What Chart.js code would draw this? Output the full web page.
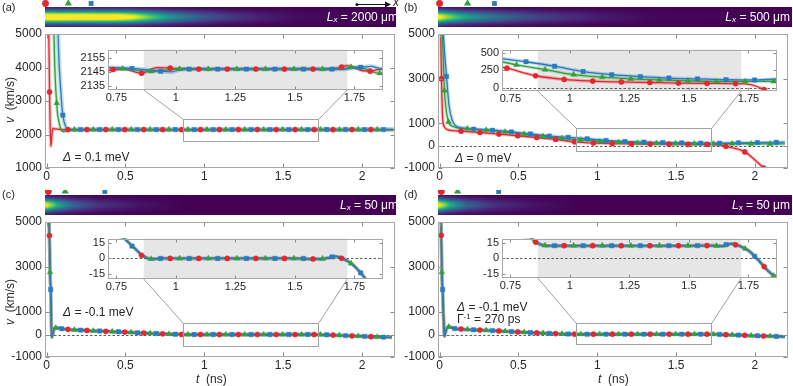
<!DOCTYPE html>
<html>
<head>
<meta charset="utf-8">
<script src="https://cdn.jsdelivr.net/npm/chart.js@4.4.1/dist/chart.umd.min.js"></script>
<style>
body{margin:0;background:#fff;}
#fig{position:relative;width:793px;height:386px;overflow:hidden;font-family:"Liberation Sans",Arial,sans-serif;color:#262626;}
canvas{position:absolute;}
.t{position:absolute;white-space:nowrap;font-size:12px;line-height:1;z-index:5;}
.yt{transform:translate(-50%,-50%) rotate(-90deg);}
.w{color:#fff;}
i{font-style:italic;}
sub{font-size:8px;vertical-align:-1px;font-style:italic;}
sup{font-size:8px;vertical-align:4px;}
</style>
</head>
<body>
<div id="fig">
  <canvas id="ma" width="400" height="186" style="left:0;top:0;z-index:1"></canvas>
  <canvas id="mb" width="393" height="186" style="left:400px;top:0;z-index:1"></canvas>
  <canvas id="mc" width="400" height="186" style="left:0;top:190px;z-index:1"></canvas>
  <canvas id="md" width="393" height="186" style="left:400px;top:190px;z-index:1"></canvas>
  <canvas id="ia" width="318" height="66" style="left:70px;top:40px;z-index:2"></canvas>
  <canvas id="ib" width="320" height="66" style="left:462px;top:40px;z-index:2"></canvas>
  <canvas id="ic" width="318" height="66" style="left:70px;top:229px;z-index:2"></canvas>
  <canvas id="id" width="320" height="66" style="left:462px;top:229px;z-index:2"></canvas>

  <div class="t" style="left:2px;top:2px;font-size:11px">(a)</div>
  <div class="t" style="left:404px;top:2px;font-size:11px">(b)</div>
  <div class="t" style="left:2px;top:189px;font-size:11px">(c)</div>
  <div class="t" style="left:404px;top:189px;font-size:11px">(d)</div>

  <div class="t" style="left:393px;top:-4px"><i>x</i></div>

  <div class="t w" style="right:395px;top:11px"><i>L</i><sub>x</sub> = 2000 μm</div>
  <div class="t w" style="right:3px;top:11px"><i>L</i><sub>x</sub> = 500 μm</div>
  <div class="t w" style="right:395px;top:199px"><i>L</i><sub>x</sub> = 50 μm</div>
  <div class="t w" style="right:3px;top:199px"><i>L</i><sub>x</sub> = 50 μm</div>

  <div class="t yt" style="left:10px;top:100px"><i>v</i>&nbsp; (km/s)</div>
  <div class="t yt" style="left:10px;top:302px"><i>v</i>&nbsp; (km/s)</div>
  <div class="t" style="left:196px;top:373px"><i>t</i>&nbsp; (ns)</div>
  <div class="t" style="left:598px;top:373px"><i>t</i>&nbsp; (ns)</div>

  <div class="t" style="left:63px;top:151px"><i>Δ</i> = 0.1 meV</div>
  <div class="t" style="left:455px;top:152px"><i>Δ</i> = 0 meV</div>
  <div class="t" style="left:63px;top:306px"><i>Δ</i> = -0.1 meV</div>
  <div class="t" style="left:457px;top:301px"><i>Δ</i> = -0.1 meV</div>
  <div class="t" style="left:457px;top:313px">Γ<sup>-1</sup> = 270 ps</div>
</div>

<script>
const FONT = '"Liberation Sans", Arial, sans-serif';
const INK = '#262626';
const RED = '#e3282d', GREEN = '#30a03a', BLUE = '#2a7bbd';

// ---------- AXES ----------
const X_MAIN = [-0.01, 2.21];
const X_TICKS = [0, 0.5, 1, 1.5, 2];
const X_INSET = [0.715, 1.87];
const X_TICKS_INSET = [0.75, 1, 1.25, 1.5, 1.75];
const ZOOM_T = [0.865, 1.72];           // shaded part of the insets / zoom box in t

const A_YTICKS = [1000, 2000, 3000, 4000, 5000];
const BCD_YTICKS = [-1000, 0, 1000, 3000, 5000];
const A_IN_YTICKS = [2135, 2145, 2155];
const B_IN_YTICKS = [0, 250, 500];
const CD_IN_YTICKS = [-15, 0, 15];

// shared marker times on the plateau
const MT_R = [0.136,0.256,0.376,0.496,0.616,0.736,0.856,0.976,1.096,1.216,1.336,1.456,1.576,1.696,1.816,1.936,2.056];
const MT_G = [0.176,0.296,0.416,0.536,0.656,0.776,0.896,1.016,1.136,1.256,1.376,1.496,1.616,1.736,1.856,1.976,2.096];
const MT_B = [0.216,0.336,0.456,0.576,0.696,0.816,0.936,1.056,1.176,1.296,1.416,1.536,1.656,1.776,1.896,2.016,2.136];

// ---------- PANEL (a) ----------
const A_R_T = [0.010,0.014,0.019,0.023,0.027,0.031,0.036,0.042,0.05,0.06,0.08,0.12,0.3,0.6,0.72,0.78,0.856,0.92,1.0,1.1,1.3,1.5,1.65,1.696,1.72,1.78,1.816,1.86,2.0,2.2];
const A_R_V = [7000,5000,3270,2200,1650,1800,2100,2190,2160,2170,2150,2148,2147,2147,2146,2147,2144,2148,2147.5,2147,2147,2147,2147,2148.5,2149.5,2146,2145.5,2147,2147,2147];
const A_G_T = [0.042,0.047,0.064,0.08,0.095,0.11,0.13,0.16,0.3,0.6,0.72,0.8,0.896,0.95,1.0,1.3,1.6,1.7,1.736,1.78,1.856,1.9,2.0,2.2];
const A_G_V = [7000,5000,2940,2350,2120,2090,2120,2145,2147,2147,2148,2147,2145.3,2146,2147,2147,2147,2147,2148.5,2148,2144,2145,2147,2147];
const A_B_T = [0.066,0.073,0.09,0.103,0.12,0.14,0.16,0.2,0.6,0.72,0.816,0.936,0.98,1.03,1.3,1.6,1.7,1.776,1.82,1.867,2.0,2.2];
const A_B_V = [7000,5000,3300,2580,2250,2160,2140,2147,2147,2148,2147.5,2145.5,2145,2147,2147,2147,2147,2148.3,2149,2147,2147,2147];
const A_MR_T = [0.019, ...MT_R];
const A_MR_V = [3270,2147,2147,2147,2147,2147,2146.7,2144,2147.7,2147,2147,2147,2147,2147,2148.5,2145.5,2147,2147];
const A_MG_T = [0.064, ...MT_G];
const A_MG_V = [2940,2147,2147,2147,2147,2147,2147.3,2145.3,2147,2147,2147,2147,2147,2147,2148.5,2144,2146.5,2147];
const A_MB_T = [0.103, ...MT_B];
const A_MB_V = [2580,2147,2147,2147,2147,2147,2147.5,2145.5,2147,2147,2147,2147,2147,2147,2148.3,2147.3,2147,2147];

// ---------- PANEL (b) ----------
const B_R_T = [0.004,0.007,0.012,0.02,0.03,0.05,0.09,0.136,0.256,0.376,0.496,0.616,0.736,0.856,0.976,1.096,1.216,1.336,1.456,1.576,1.696,1.76,1.816,1.936,2.056];
const B_R_V = [6000,5000,3000,1200,850,720,670,650,590,520,445,365,281,171,118,94,81,73,65,61,58,42,-30,-280,-1000];
const B_G_T = [0.014,0.018,0.031,0.057,0.085,0.12,0.176,0.296,0.416,0.536,0.656,0.776,0.896,1.016,1.136,1.256,1.376,1.496,1.616,1.736,1.856,1.976,2.096,2.19];
const B_G_V = [6000,5000,2470,1070,860,790,760,700,620,520,420,329,260,187,150,126,110,98,89,89,89,85,80,80];
const B_B_T = [0.018,0.024,0.044,0.06,0.08,0.1,0.14,0.216,0.336,0.456,0.576,0.696,0.816,0.936,1.056,1.176,1.296,1.416,1.536,1.656,1.776,1.896,2.016,2.136,2.19];
const B_B_V = [6000,5000,3100,1800,1150,900,800,740,690,615,525,430,374,309,232,187,159,138,126,114,110,128,140,150,160];
const B_MR_T = [0.012, ...MT_R];
const B_MR_V = [3000,650,590,520,445,365,281,171,118,94,81,73,65,61,58,-30,-280,-1000];
const B_MG_T = [0.031, 0.057, ...MT_G];
const B_MG_V = [2470,1070,760,700,620,520,420,329,260,187,150,126,110,98,89,89,89,85,80];
const B_MB_T = [0.044, ...MT_B];
const B_MB_V = [3100,740,690,615,525,430,374,309,232,187,159,138,126,114,110,128,140,150];

// ---------- PANEL (c) ----------
const C_T = [0.008,0.012,0.016,0.018,0.022,0.026,0.03,0.033,0.037,0.044,0.052,0.064,0.1,0.2,0.3,0.4,0.5,0.6,0.7,0.786,0.828,0.86,0.894,0.95,1.1,1.3,1.5,1.58,1.62,1.672,1.70,1.74,1.78,1.80,1.9,2.0,2.1,2.19];
const C_V = [9000,6500,5000,4400,2770,2000,600,-120,-50,150,290,300,250,200,165,135,105,72,42,19,9.7,2.8,-0.5,0,0,0,0,-0.5,-0.3,2,0,-5.6,-15,-21,-50,-80,-110,-130];
const C_MR_T = [0.018, ...MT_R];
const C_MR_V = [4400,232,180,142,106,67,32,3,0,0,0,0,0,-0.5,0.2,-25,-61,-96];
const C_MG_T = [0.022, 0.058, ...MT_G];
const C_MG_V = [2770,298,210,166,130,94,55,21,-0.5,0,0,0,0,0,-0.3,-5,-38,-73,-109];
const C_MB_T = [0.026, 0.096, ...MT_B];
const C_MB_V = [2000,255,195,155,120,80,43,12,0,0,0,0,0,0,1.5,-14,-49,-85,-118];

// ---------- PANEL (d) ----------
const D_T = [0.005,0.008,0.0107,0.0145,0.019,0.026,0.031,0.036,0.044,0.058,0.1,0.2,0.3,0.4,0.5,0.6,0.7,0.8,0.843,0.857,0.899,0.95,1.1,1.3,1.5,1.6,1.64,1.68,1.71,1.754,1.796,1.83,1.867,1.95,2.05,2.19];
const D_V = [9000,6000,4410,2770,2000,600,-75,50,250,340,260,215,185,150,112,78,48,25,19,16,12.5,12.5,12.5,12.5,12.5,12.6,12,14.4,12.5,7,-2.8,-11.7,-19.4,-40,-65,-100];
const D_MR_T = [0.0107, ...MT_R];
const D_MR_V = [4410,245,198,158,113,73,40,16,12.5,12.5,12.5,12.5,12.5,12.6,13.3,-8,-36,-66];
const D_MG_T = [0.0145, 0.058, ...MT_G];
const D_MG_V = [2770,340,225,186,145,100,64,30,12.7,12.5,12.5,12.5,12.5,12.5,12.3,9.5,-17,-46,-75];
const D_MB_T = [0.019, 0.096, ...MT_B];
const D_MB_V = [2000,265,210,172,128,86,50,22,12.5,12.5,12.5,12.5,12.5,12.5,13.5,2,-27,-56,-86];

// ---------- STRIPS (intensity along x, as fraction of width) ----------
const VIRIDIS = ['#440154','#482475','#414487','#355f8d','#2a788e','#21918c','#22a884','#44bf70','#7ad151','#bddf26','#fde725'];
const A_STRIP_X = [0, 0.2, 0.25, 0.31, 0.36, 0.44, 0.52, 0.6, 0.72, 1];
const A_STRIP_I = [1.15, 1.12, 1.0, 0.7, 0.5, 0.3, 0.18, 0.1, 0.03, 0];
const B_STRIP_X = [0, 0.025, 0.06, 0.1, 0.2, 0.3, 0.45, 0.6, 1];
const B_STRIP_I = [1.05, 0.85, 0.65, 0.5, 0.3, 0.18, 0.08, 0.02, 0];
const C_STRIP_X = [0, 0.015, 0.03, 0.05, 0.08, 0.15, 0.27, 0.4, 1];
const C_STRIP_I = [1.0, 0.85, 0.65, 0.5, 0.32, 0.15, 0.05, 0, 0];
const D_STRIP_X = [0, 0.015, 0.03, 0.05, 0.08, 0.15, 0.27, 0.4, 1];
const D_STRIP_I = [1.0, 0.85, 0.65, 0.5, 0.32, 0.15, 0.05, 0, 0];
// probe icons above strips (fraction of strip width) : red, green, blue
const A_ICONS = [0.0, 0.065, 0.13];
const B_ICONS = [0.003, 0.082, 0.158];
const C_ICONS = [0.008, 0.056, 0.169];
const D_ICONS = [0.008, 0.054, 0.17];

// ---------- HELPERS ----------
const xy = (T, V) => T.map((t, i) => ({x: t, y: V[i]}));
function fade(hex, a) {
  const n = parseInt(hex.slice(1), 16);
  return `rgba(${n >> 16},${(n >> 8) & 255},${n & 255},${a})`;
}
function rgb(hex) { const n = parseInt(hex.slice(1), 16); return [n >> 16, (n >> 8) & 255, n & 255]; }
const VIR_RGB = VIRIDIS.map(rgb);
function viridis(v) {
  v = Math.max(0, Math.min(1, v));
  const f = v * 10, i = Math.min(9, Math.floor(f)), r = f - i;
  const a = VIR_RGB[i], b = VIR_RGB[i + 1];
  return [a[0] + (b[0] - a[0]) * r, a[1] + (b[1] - a[1]) * r, a[2] + (b[2] - a[2]) * r];
}
function profileAt(X, I, f) {
  for (let k = 1; k < X.length; k++) {
    if (f <= X[k]) { const r = (f - X[k-1]) / (X[k] - X[k-1]); return I[k-1] + (I[k] - I[k-1]) * r; }
  }
  return I[I.length - 1];
}
function drawStrip(ctx, x0, y0, w, h, X, I) {
  const img = ctx.createImageData(w, h), sig = 4.3;
  for (let i = 0; i < w; i++) {
    const amp = profileAt(X, I, i / (w - 1));
    for (let j = 0; j < h; j++) {
      const d = j + 0.5 - h / 2;
      const c = viridis(amp * Math.exp(-d * d / (2 * sig * sig)));
      const p = (j * w + i) * 4;
      img.data[p] = c[0]; img.data[p+1] = c[1]; img.data[p+2] = c[2]; img.data[p+3] = 255;
    }
  }
  ctx.putImageData(img, x0, y0);
}
function frameTicks(ctx, a, x, y, xt, yt, len) {
  ctx.strokeStyle = '#8a8a8a'; ctx.lineWidth = 1; ctx.setLineDash([]);
  const L = Math.round(a.left) + 0.5, R = Math.round(a.right) - 0.5, T = Math.round(a.top) + 0.5, B = Math.round(a.bottom) - 0.5;
  ctx.beginPath();
  xt.forEach(v => { const p = Math.round(x.getPixelForValue(v)) + 0.5; ctx.moveTo(p, B); ctx.lineTo(p, B - len); ctx.moveTo(p, T); ctx.lineTo(p, T + len); });
  yt.forEach(v => { const p = Math.round(y.getPixelForValue(v)) + 0.5; ctx.moveTo(L, p); ctx.lineTo(L + len, p); ctx.moveTo(R, p); ctx.lineTo(R - len, p); });
  ctx.stroke();
  ctx.strokeStyle = '#a8a8a8';
  ctx.strokeRect(L, T, R - L, B - T);
}
function dashZero(chart) {
  const {ctx, chartArea: a, scales: {y}} = chart;
  const p = Math.round(y.getPixelForValue(0)) + 0.5;
  ctx.save(); ctx.strokeStyle = '#333'; ctx.lineWidth = 0.8; ctx.setLineDash([2.5, 2]);
  ctx.beginPath(); ctx.moveTo(a.left, p); ctx.lineTo(a.right, p); ctx.stroke(); ctx.restore();
}

function datasets(lines, marks) {
  const ds = [];
  lines.forEach(([T, V, c, hw]) => {
    ds.push({data: xy(T, V), showLine: true, borderColor: fade(c, 0.28), borderWidth: hw || 3.5, pointRadius: 0, cubicInterpolationMode: 'monotone'});
    ds.push({data: xy(T, V), showLine: true, borderColor: c, borderWidth: 1.3, pointRadius: 0, cubicInterpolationMode: 'monotone'});
  });
  marks.forEach(([T, V, c, s, r]) => {
    ds.push({data: xy(T, V), showLine: false, pointStyle: s, pointRadius: r, pointBackgroundColor: c, pointBorderColor: fade(c, 0.55), pointBorderWidth: 0.8});
  });
  return ds.reverse();   // first dataset is drawn on top
}

function makeChart(id, P, plugin) {
  return new Chart(document.getElementById(id), {
    type: 'scatter',
    data: {datasets: datasets(P.lines, P.marks)},
    options: {
      responsive: false, animation: false, events: [], devicePixelRatio: 1,
      layout: {padding: {top: P.pad[0], right: P.pad[1], bottom: 0, left: 0}},
      plugins: {legend: {display: false}, tooltip: {enabled: false}},
      scales: {
        x: {type: 'linear', min: P.xr[0], max: P.xr[1],
            grid: {display: false, drawTicks: false}, border: {display: false},
            ticks: {font: {family: FONT, size: P.fs}, color: INK, padding: P.xpad, maxRotation: 0, autoSkip: false, callback: v => String(v)},
            afterBuildTicks: s => { s.ticks = P.xt.map(v => ({value: v})); },
            afterFit: s => { s.height = P.xh; }},
        y: {type: 'linear', min: P.yr[0], max: P.yr[1],
            grid: {display: false, drawTicks: false}, border: {display: false},
            ticks: {font: {family: FONT, size: P.fs}, color: INK, padding: 3, autoSkip: false, callback: v => String(v)},
            afterBuildTicks: s => { s.ticks = P.yt.map(v => ({value: v})); },
            afterFit: s => { s.width = P.yw; }}
      }
    },
    plugins: [plugin]
  });
}

function insetPlugin(P) {
  return {
    id: 'insetDeco',
    beforeDatasetsDraw(c) {
      const {ctx, chartArea: a, scales: {x}} = c;
      ctx.save();
      ctx.fillStyle = '#fff'; ctx.fillRect(a.left, a.top, a.width, a.height);
      const g0 = x.getPixelForValue(ZOOM_T[0]), g1 = x.getPixelForValue(ZOOM_T[1]);
      ctx.fillStyle = '#e6e6e6'; ctx.fillRect(g0, a.top, g1 - g0, a.height);
      ctx.restore();
      if (P.zero) dashZero(c);
    },
    afterDatasetsDraw(c) {
      const {ctx, chartArea: a, scales: {x, y}} = c;
      ctx.save(); frameTicks(ctx, a, x, y, P.xt, P.yt, 3); ctx.restore();
    }
  };
}

function mainPlugin(P) {
  return {
    id: 'mainDeco',
    beforeDatasetsDraw(c) { if (P.zero) dashZero(c); },
    afterDatasetsDraw(c) {
      const {ctx, chartArea: a, scales: {x, y}} = c;
      ctx.save();
      // zoom box and connectors to the inset
      const bx0 = Math.round(x.getPixelForValue(ZOOM_T[0])) + 0.5, bx1 = Math.round(x.getPixelForValue(ZOOM_T[1])) + 0.5;
      const byT = Math.round(y.getPixelForValue(P.box[1])) + 0.5, byB = Math.round(y.getPixelForValue(P.box[0])) + 0.5;
      ctx.strokeStyle = '#a0a0a0'; ctx.lineWidth = 1;
      ctx.strokeRect(bx0, byT, bx1 - bx0, byB - byT);
      const ins = P.inset, dx = P.insetPos[0] - P.pos[0], dy = P.insetPos[1] - P.pos[1];
      const ix0 = ins.scales.x.getPixelForValue(ZOOM_T[0]) + dx, ix1 = ins.scales.x.getPixelForValue(ZOOM_T[1]) + dx;
      const iy = ins.chartArea.bottom + dy;
      ctx.beginPath(); ctx.moveTo(bx0, byT); ctx.lineTo(ix0, iy); ctx.moveTo(bx1, byT); ctx.lineTo(ix1, iy); ctx.stroke();
      frameTicks(ctx, a, x, y, P.xt, P.yt, 4);
      // strip above the axes
      const sx = Math.round(a.left), sw = Math.round(a.right) + P.stripExtra - sx, sy = Math.round(a.top) - 27;
      drawStrip(ctx, sx, sy, sw, 20, P.stripX, P.stripI);
      const iconStyle = [['circle', RED, 3.4], ['triangle', GREEN, 4.2], ['rect', BLUE, 3.4]];
      P.icons.forEach((f, k) => {
        const [st, col, r] = iconStyle[k];
        ctx.fillStyle = col; ctx.strokeStyle = col;
        Chart.helpers.drawPoint(ctx, {pointStyle: st, radius: r, rotation: 0, borderWidth: 0}, sx + f * sw + 0.5, sy - 3.5);
      });
      if (P.arrow) {
        ctx.strokeStyle = '#111'; ctx.fillStyle = '#111'; ctx.lineWidth = 1;
        const y0 = 4.5, xa = P.arrow[0], xb = P.arrow[1];
        ctx.beginPath(); ctx.arc(xa, y0, 1.5, 0, Math.PI * 2); ctx.fill();
        ctx.beginPath(); ctx.moveTo(xa, y0); ctx.lineTo(xb - 4, y0); ctx.stroke();
        ctx.beginPath(); ctx.moveTo(xb, y0); ctx.lineTo(xb - 6, y0 - 3); ctx.lineTo(xb - 6, y0 + 3); ctx.closePath(); ctx.fill();
      }
      ctx.restore();
    }
  };
}

// ---------- BUILD ----------
const MK = (mr, mg, mb) => [
  [mr[0], mr[1], RED, 'circle', 2.6],
  [mg[0], mg[1], GREEN, 'triangle', 3.3],
  [mb[0], mb[1], BLUE, 'rect', 3.1]
];
const PANELS = [
  {main: 'ma', inset: 'ia', pos: [0, 0], insetPos: [70, 40], mainYw: 45, mainPr: 1, insYw: 38, insPr: 5, insXh: 16,
   yr: [1000, 5000], yt: A_YTICKS, iyr: [2132, 2161], iyt: A_IN_YTICKS, box: [1806, 2463], zero: false, insZero: false,
   lines: [[A_R_T, A_R_V, RED], [A_G_T, A_G_V, GREEN], [A_B_T, A_B_V, BLUE, 4.5]],
   marks: MK([A_MR_T, A_MR_V], [A_MG_T, A_MG_V], [A_MB_T, A_MB_V]),
   stripX: A_STRIP_X, stripI: A_STRIP_I, icons: A_ICONS, stripExtra: 1, arrow: [357, 391]},
  {main: 'mb', inset: 'ib', pos: [400, 0], insetPos: [462, 40], mainYw: 38, mainPr: 5, insYw: 40, insPr: 5, insXh: 15,
   yr: [-1000, 5000], yt: BCD_YTICKS, iyr: [-50, 550], iyt: B_IN_YTICKS, box: [-224, 807], zero: true, insZero: true,
   lines: [[B_R_T, B_R_V, RED], [B_G_T, B_G_V, GREEN], [B_B_T, B_B_V, BLUE]],
   marks: MK([B_MR_T, B_MR_V], [B_MG_T, B_MG_V], [B_MB_T, B_MB_V]),
   stripX: B_STRIP_X, stripI: B_STRIP_I, icons: B_ICONS, stripExtra: 4, arrow: null},
  {main: 'mc', inset: 'ic', pos: [0, 190], insetPos: [70, 229], mainYw: 45, mainPr: 1, insYw: 38, insPr: 5, insXh: 16,
   yr: [-1000, 5000], yt: BCD_YTICKS, iyr: [-20, 19.3], iyt: CD_IN_YTICKS, box: [-489, 533], zero: true, insZero: true,
   lines: [[C_T, C_V, RED], [C_T, C_V, GREEN], [C_T, C_V, BLUE]],
   marks: MK([C_MR_T, C_MR_V], [C_MG_T, C_MG_V], [C_MB_T, C_MB_V]),
   stripX: C_STRIP_X, stripI: C_STRIP_I, icons: C_ICONS, stripExtra: 1, arrow: null},
  {main: 'md', inset: 'id', pos: [400, 190], insetPos: [462, 229], mainYw: 38, mainPr: 5, insYw: 40, insPr: 5, insXh: 17,
   yr: [-1000, 5000], yt: BCD_YTICKS, iyr: [-19.2, 19.4], iyt: CD_IN_YTICKS, box: [-444, 489], zero: true, insZero: true,
   lines: [[D_T, D_V, RED], [D_T, D_V, GREEN], [D_T, D_V, BLUE]],
   marks: MK([D_MR_T, D_MR_V], [D_MG_T, D_MG_V], [D_MB_T, D_MB_V]),
   stripX: D_STRIP_X, stripI: D_STRIP_I, icons: D_ICONS, stripExtra: 4, arrow: null}
];

PANELS.forEach(p => {
  const IP = {lines: p.lines, marks: p.marks, pad: [3, p.insPr], xr: X_INSET, yr: p.iyr, xt: X_TICKS_INSET, yt: p.iyt,
              fs: 11, xpad: 1, xh: p.insXh, yw: p.insYw, zero: p.insZero};
  const inset = makeChart(p.inset, IP, insetPlugin(IP));
  const top = p.main === 'ma' || p.main === 'mb';
  const MP = {lines: p.lines, marks: p.marks, pad: [top ? 34 : 32, p.mainPr], xr: X_MAIN, yr: p.yr,
              xt: X_TICKS, yt: p.yt, fs: 12, xpad: 1, xh: top ? 18 : 19, yw: p.mainYw, zero: p.zero,
              box: p.box, inset: inset, pos: p.pos, insetPos: p.insetPos,
              stripX: p.stripX, stripI: p.stripI, icons: p.icons, stripExtra: p.stripExtra, arrow: p.arrow};
  makeChart(p.main, MP, mainPlugin(MP));
});
</script>
</body>
</html>
